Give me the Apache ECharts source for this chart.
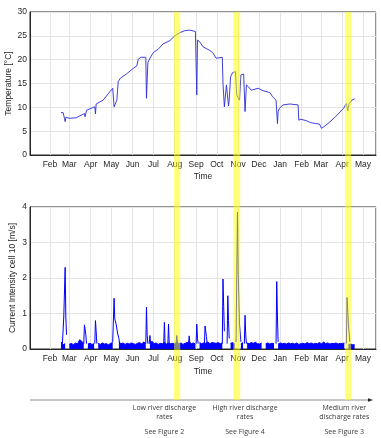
<!DOCTYPE html>
<html>
<head>
<meta charset="utf-8">
<script src="https://cdn.jsdelivr.net/npm/echarts@6/dist/echarts.min.js"></script>
<style>
html,body{margin:0;padding:0;background:#fff;}
#c{width:381px;height:438px;}
</style>
</head>
<body>
<div id="c"></div>
<script>
// ---------- DATA ----------
const monthNames = ['Jan','Feb','Mar','Apr','May','Jun','Jul','Aug','Sep','Oct','Nov','Dec'];
const axisMin = '2013-01-03';
const axisMax = '2014-05-20';
const tempTicks = [0, 5, 10, 15, 20, 25, 30];
const curTicks = [0, 1, 2, 3, 4];

const tempDates = ['2013-02-17','2013-02-20','2013-02-22','2013-02-23','2013-02-24','2013-03-01','2013-03-11','2013-03-16','2013-03-23','2013-03-24','2013-03-26',
 '2013-04-07','2013-04-08','2013-04-09','2013-04-19','2013-05-03','2013-05-05','2013-05-07','2013-05-09','2013-05-11','2013-05-14','2013-05-23',
 '2013-06-02','2013-06-07','2013-06-09','2013-06-13','2013-06-20','2013-06-21','2013-06-23','2013-06-26','2013-07-01','2013-07-08','2013-07-15','2013-07-25',
 '2013-08-01','2013-08-09','2013-08-16','2013-08-23','2013-08-31','2013-09-02','2013-09-03','2013-09-06','2013-09-11','2013-09-20','2013-09-25','2013-09-30',
 '2013-10-09','2013-10-10','2013-10-12','2013-10-15','2013-10-18','2013-10-19','2013-10-21','2013-10-24','2013-10-28','2013-10-30',
 '2013-11-03','2013-11-05','2013-11-09','2013-11-11','2013-11-13','2013-11-16','2013-11-20','2013-11-22','2013-11-30',
 '2013-12-07','2013-12-17','2013-12-21','2013-12-26','2013-12-28','2013-12-29','2013-12-31',
 '2014-01-05','2014-01-15','2014-01-27','2014-01-28','2014-01-31','2014-02-08','2014-02-14','2014-02-21','2014-02-27',
 '2014-03-02','2014-03-05','2014-03-13','2014-03-22','2014-04-03','2014-04-07','2014-04-09','2014-04-11','2014-04-15','2014-04-19'];
const tempValues = [8.9,8.9,7.7,7.0,7.9,7.7,7.8,8.2,8.7,8.0,9.4,
 10.1,8.6,10.7,11.5,14.0,10.1,9.8,11.5,15.4,16.1,17.0,
 18.2,18.7,20.1,20.5,20.5,11.9,19.4,20.3,21.5,22.2,23.3,24.0,
 25.0,25.7,26.1,26.2,25.9,12.6,24.1,23.8,22.7,22.0,21.5,20.3,
 20.5,15.0,10.1,14.7,10.3,11.5,16.4,17.3,17.5,12.6,
 11.5,16.8,17.0,9.1,14.7,14.3,13.6,14.0,14.0,
 13.5,13.1,12.2,11.5,6.6,9.1,9.8,
 10.5,10.7,10.5,7.3,7.5,7.2,6.8,6.6,6.5,
 5.6,5.9,6.8,8.0,9.8,10.8,9.3,10.8,11.5,11.8];

// current intensity: baseline sampled every 3 days from curStart
const curStart = '2013-02-17';
const curStepDays = 3;
const curBase = [0.2,0.12,0.15,null,0.13,0.16,0.12,0.17,0.14,0.26,0.22,0.15,null,0.14,0.16,0.13,0.15,null,0.16,0.13,
 0.17,0.14,0.15,0.12,0.16,0.18,null,null,0.2,0.15,0.17,0.13,0.16,0.14,0.17,0.15,0.13,0.16,0.18,0.14,
 0.2,0.15,null,0.16,0.22,0.15,0.17,0.13,0.16,0.15,0.18,0.14,0.17,0.15,0.16,0.14,0.2,0.15,0.17,0.13,
 0.16,0.18,0.2,0.15,0.17,0.14,null,0.18,0.15,0.17,0.16,0.2,0.15,0.18,0.17,0.16,0.18,0.15,0.17,null,
 0.15,null,0.16,0.18,0.14,null,null,0.15,0.18,null,0.17,0.15,0.18,0.16,0.19,0.15,0.14,0.17,null,0.15,
 0.17,0.14,0.16,0.15,null,0.14,0.17,0.15,0.16,0.14,0.17,0.15,0.16,0.14,0.17,0.13,0.15,0.16,0.14,0.18,
 0.15,0.17,0.14,0.16,0.15,0.18,0.14,0.2,0.15,0.17,0.14,0.16,0.15,0.17,0.14,0.16,0.15,0.17,null,0.12,
 0.14,0.12,0.12];

const spikeDates = ['2013-02-19','2013-02-21','2013-02-23','2013-02-24','2013-02-25','2013-02-26',
 '2013-03-22','2013-03-23','2013-03-25','2013-03-26','2013-03-27',
 '2013-04-07','2013-04-08','2013-04-09','2013-04-10','2013-04-11',
 '2013-05-03','2013-05-05','2013-05-06','2013-05-08','2013-05-10','2013-05-12','2013-05-13','2013-05-14',
 '2013-06-20','2013-06-21','2013-06-22','2013-06-23','2013-06-24',
 '2013-06-25','2013-06-26','2013-06-27','2013-06-28',
 '2013-07-16','2013-07-17','2013-07-18','2013-07-19',
 '2013-07-22','2013-07-23','2013-07-24','2013-07-25',
 '2013-08-03','2013-08-04','2013-08-05','2013-08-06',
 '2013-08-21','2013-08-22','2013-08-23','2013-08-24',
 '2013-09-01','2013-09-02','2013-09-03','2013-09-04','2013-09-05',
 '2013-09-13','2013-09-14','2013-09-16','2013-09-17','2013-09-18',
 '2013-10-09','2013-10-10','2013-10-11','2013-10-12','2013-10-13',
 '2013-10-16','2013-10-17','2013-10-18','2013-10-19','2013-10-20',
 '2013-10-29','2013-10-30','2013-10-31','2013-11-01','2013-11-03','2013-11-05','2013-11-06',
 '2013-11-10','2013-11-11','2013-11-12','2013-11-13','2013-11-14',
 '2013-12-26','2013-12-27','2013-12-28','2013-12-29','2013-12-30',
 '2014-04-07','2014-04-08','2014-04-10','2014-04-12'];
const spikeValues = [0.15,0.9,2.3,0.9,0.4,null,
 0.15,0.68,0.4,0.15,null,
 0.15,0.8,0.5,0.15,null,
 0.2,1.43,0.85,0.7,0.45,0.3,0.15,null,
 0.15,1.18,0.4,0.15,null,
 0.15,0.38,0.15,null,
 0.15,0.75,0.15,null,
 0.15,0.7,0.15,null,
 0.15,0.38,0.15,null,
 0.15,0.37,0.15,null,
 0.15,0.7,0.3,0.15,null,
 0.15,0.65,0.35,0.15,null,
 0.15,1.97,1.2,0.5,null,
 0.15,1.5,0.8,0.3,null,
 0.2,2.1,3.85,2.2,0.7,0.2,null,
 0.15,0.95,0.4,0.15,null,
 0.15,1.9,0.9,0.2,null,
 0.15,1.45,0.7,0.2];

const bandStarts = ['2013-07-31','2013-10-25','2014-04-05'];
const bandEnds   = ['2013-08-09','2013-11-04','2014-04-14'];

const notes = [
  ['Low river discharge','rates','See Figure 2'],
  ['High river discharge','rates','See Figure 4'],
  ['Medium river','discharge rates','See Figure 3']
];
const noteCenters = ['2013-07-17','2013-11-11','2014-04-04'];

// ---------- BUILD ----------
const DAY = 86400000;
const parse = s => +echarts.time.parse(s);
const tempData = tempDates.map((d,i) => [d, tempValues[i]]);
const startTs = parse(curStart);
const baseData = curBase.map((v,i) => [startTs + i*curStepDays*DAY, v]);
const spikeData = spikeDates.map((d,i) => [d, spikeValues[i]]);

const FONT = 'Liberation Sans';
const txt = '#262626';
function xAx(gi){
  return {
    type:'time', gridIndex:gi, min:axisMin, max:axisMax,
    splitNumber:16, minInterval:28*DAY, maxInterval:31*DAY,
    name:'Time', nameLocation:'middle', nameGap:gi===0?17:18, nameMoveOverlap:false,
    nameTextStyle:{fontFamily:FONT,fontSize:8.5,color:txt},
    axisLine:{show:true,onZero:false,lineStyle:{color:'#262626',width:1}},
    axisTick:{show:false},
    axisLabel:{fontFamily:FONT,fontSize:8.5,color:txt,margin:5,showMinLabel:false,showMaxLabel:false,
      hideOverlap:false,
      formatter:function(v){return monthNames[new Date(v).getMonth()];}},
    splitLine:{show:true,lineStyle:{color:'#e4e4e4',width:1}}
  };
}
function yAx(gi,ticks,name,gap){
  return {
    type:'value', gridIndex:gi, min:ticks[0], max:ticks[ticks.length-1],
    interval:ticks[1]-ticks[0],
    name:name, nameLocation:'middle', nameGap:gap, nameRotate:90, nameMoveOverlap:false,
    nameTextStyle:{fontFamily:FONT,fontSize:8.5,color:txt},
    axisLine:{show:true,lineStyle:{color:'#262626',width:1}},
    axisTick:{show:false},
    axisLabel:{fontFamily:FONT,fontSize:8.5,color:txt,margin:3},
    splitLine:{show:true,lineStyle:{color:'#e4e4e4',width:1}}
  };
}

const chart = echarts.init(document.getElementById('c'), null, {renderer:'canvas'});
chart.setOption({
  animation:false,
  backgroundColor:'#fff',
  grid:[
    {left:30,right:5,top:12,height:143,outerBoundsMode:'none',containLabel:false,show:true,borderColor:'#262626',borderWidth:1,backgroundColor:'transparent'},
    {left:30,right:5,top:207,height:142,outerBoundsMode:'none',containLabel:false,show:true,borderColor:'#262626',borderWidth:1,backgroundColor:'transparent'}
  ],
  xAxis:[xAx(0),xAx(1)],
  yAxis:[yAx(0,tempTicks,'Temperature [°C]',17), yAx(1,curTicks,'Current Intensity cell 10 [m/s]',13)],
  series:[
    {type:'line',xAxisIndex:0,yAxisIndex:0,data:tempData,showSymbol:false,symbol:'none',
     lineStyle:{color:'#2a2ad8',width:0.9},z:3},
    {type:'line',xAxisIndex:1,yAxisIndex:1,data:baseData,showSymbol:false,symbol:'none',connectNulls:false,
     lineStyle:{color:'#0000ff',width:1},areaStyle:{color:'#0000ff',opacity:1,origin:'start'},z:3},
    {type:'line',xAxisIndex:1,yAxisIndex:1,data:spikeData,showSymbol:false,symbol:'none',connectNulls:false,
     lineStyle:{color:'#0000ff',width:1},z:4}
  ]
});

// overlay bands, timeline and notes positioned through the chart's own scales
const yTop = chart.convertToPixel({yAxisIndex:0}, tempTicks[tempTicks.length-1]);
const lineY = 400;
const xLeft = chart.convertToPixel({xAxisIndex:0}, parse(axisMin));
const graphics = [];
graphics.push({type:'line',shape:{x1:xLeft,y1:lineY,x2:370,y2:lineY},style:{stroke:'#8c8c8c',lineWidth:1},z:50});
graphics.push({type:'polygon',shape:{points:[[373,lineY],[368,lineY-1.8],[368,lineY+1.8]]},style:{fill:'#222'},z:50});
bandStarts.forEach((s,i)=>{
  const x0 = chart.convertToPixel({xAxisIndex:0}, parse(s));
  const x1 = chart.convertToPixel({xAxisIndex:0}, parse(bandEnds[i]));
  graphics.push({type:'rect',shape:{x:x0,y:yTop,width:x1-x0,height:lineY-yTop},
    style:{fill:'rgba(255,255,0,0.52)'},z:100});
});
noteCenters.forEach((c,i)=>{
  const cx = chart.convertToPixel({xAxisIndex:0}, parse(c));
  const lines = notes[i];
  const ys = [408,417,432];
  lines.forEach((t,j)=>{
    graphics.push({type:'text',x:cx,y:ys[j],style:{text:t,fill:'#3a3a3a',fontFamily:'Open Sans',fontSize:7,
      align:'center',verticalAlign:'middle'},z:60});
  });
});
chart.setOption({graphic:graphics});
</script>
</body>
</html>
